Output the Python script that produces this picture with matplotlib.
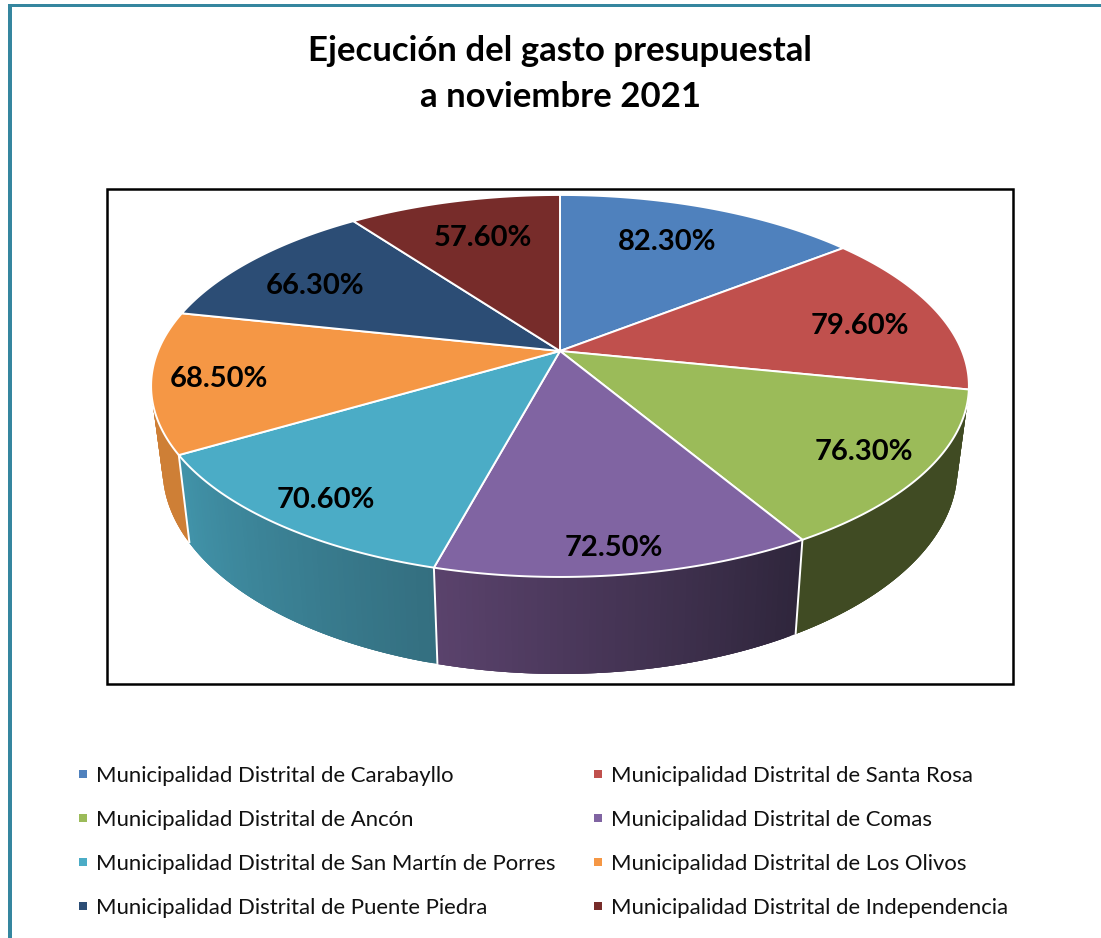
import numpy as np
import matplotlib
matplotlib.use("Agg")
import matplotlib.pyplot as plt
from matplotlib.collections import PolyCollection
from matplotlib.patches import Polygon, Rectangle

plt.rcParams["font.family"] = ["Lato", "DejaVu Sans"]

# data
municipios = ["Carabayllo", "Santa Rosa", "Ancón", "Comas",
              "San Martín de Porres", "Los Olivos", "Puente Piedra", "Independencia"]
ejecucion = [82.3, 79.6, 76.3, 72.5, 70.6, 68.5, 66.3, 57.6]

colores = ["#4F81BD", "#C0504D", "#9BBB59", "#8064A2", "#4BACC6", "#F59745", "#2C4D75", "#772C2A"]
# side colour at start / end of each slice, going clockwise
lado_ini = ["#2F4D71", "#73302E", "#404B23", "#2F263C", "#346F80", "#CE7F36", "#1A2E46", "#471A19"]
lado_fin = ["#2F4D71", "#73302E", "#404B23", "#5A426C", "#4193A9", "#CE7F36", "#1A2E46", "#471A19"]
pos_etiqueta = [(667, 242), (860, 326), (864, 452), (614, 548),
                (326, 500), (219, 379), (315, 286), (483, 238)]

# perspective of the pie, in pixels
CX, CY = 560, 351
A, B, K = 402, 184.6, 0.183


def top(ang, r=1.0):
    u, v = r * np.sin(ang), r * np.cos(ang)
    w = 1 + K * v
    return CX + A * u / w, CY - B * v / w


def bottom(ang):
    x, y = top(ang)
    return CX + 0.972 * (x - CX), y + 97 - 0.0744 * (577 - y)


def mezcla(c1, c2, t):
    a, b = np.array(matplotlib.colors.to_rgb(c1)), np.array(matplotlib.colors.to_rgb(c2))
    return tuple(a + (b - a) * t)


fig = plt.figure(figsize=(11.01, 9.38), dpi=100)
ax = fig.add_axes([0, 0, 1, 1])
ax.set_xlim(0, 1101)
ax.set_ylim(938, 0)
ax.axis("off")

# page border
ax.add_patch(Rectangle((8, 4), 1093, 3.5, color="#35869F", lw=0))
ax.add_patch(Rectangle((8, 4), 3.5, 934, color="#35869F", lw=0))

ax.text(560, 51, "Ejecución del gasto presupuestal", ha="center", va="center",
        fontsize=25, fontweight="bold", color="black")
ax.text(560, 97, "a noviembre 2021", ha="center", va="center",
        fontsize=25, fontweight="bold", color="black")

# plot frame
ax.add_patch(Rectangle((107, 189), 906, 495, fill=False, ec="black", lw=1.8))

fracs = np.array(ejecucion) / sum(ejecucion)
bordes = np.concatenate([[0], np.cumsum(fracs)]) * 2 * np.pi

# sides first, each strip overlaps the next one so no seams show
for i in range(len(ejecucion)):
    angs = np.linspace(bordes[i], bordes[i + 1], 60)
    quads, cols = [], []
    for j in range(len(angs) - 1):
        fin = min(j + 3, len(angs) - 1)
        tramo = angs[j:fin + 1]
        tx, ty = top(tramo)
        bx, by = bottom(tramo)
        quads.append(list(zip(tx, ty)) + list(zip(bx, by))[::-1])
        cols.append(mezcla(lado_ini[i], lado_fin[i], j / (len(angs) - 2)))
    ax.add_collection(PolyCollection(quads, facecolors=cols, edgecolors="none", linewidths=0))

# white lines between sides
for a in bordes[:-1]:
    if np.cos(a) < -0.25:
        x1, y1 = top(a)
        x2, y2 = bottom(a)
        ax.plot([x1, x2], [y1, y2], color="white", lw=1.4, solid_capstyle="butt")

# top faces
for i in range(len(ejecucion)):
    angs = np.linspace(bordes[i], bordes[i + 1], 120)
    xs, ys = top(angs)
    pts = [(CX, CY)] + list(zip(xs, ys))
    ax.add_patch(Polygon(pts, closed=True, fc=colores[i], ec="white", lw=1.4, joinstyle="round"))

for i, v in enumerate(ejecucion):
    x, y = pos_etiqueta[i]
    ax.text(x, y, f"{v:.2f}%", ha="center", va="center", fontsize=21,
            fontweight="bold", color="black")

# legend, two columns
filas_y = [774, 818, 862, 906]
col_x = [79, 594]
for i, m in enumerate(municipios):
    x = col_x[i % 2]
    y = filas_y[i // 2]
    ax.add_patch(Rectangle((x, y - 4), 8, 8, color=colores[i], lw=0))
    ax.text(x + 17, y + 1.5, "Municipalidad Distrital de " + m, ha="left", va="center",
            fontsize=15.9, color="#111111")

fig.savefig("out.png", dpi=100)
